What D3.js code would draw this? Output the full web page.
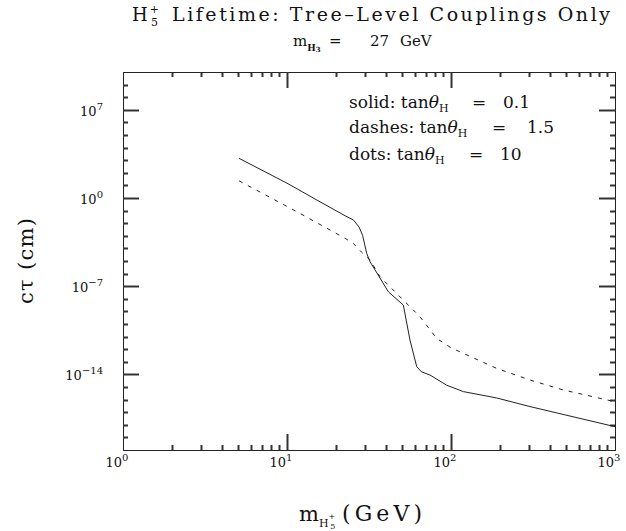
<!DOCTYPE html>
<html>
<head>
<meta charset="utf-8">
<script src="https://cdn.jsdelivr.net/npm/d3@7"></script>
<style>
  body { margin: 0; background: #fff; }
  svg { display: block; }
  text { font-family: 'DejaVu Serif', 'Liberation Serif', serif; fill: #111; }
</style>
</head>
<body>
<svg id="chart"></svg>
<script>
// Chart size
var canvasWidth = 626;
var canvasHeight = 531;

// Plot frame
var frame = { left: 123, right: 615, top: 72, bottom: 450 };

// Solid curve: tanθH = 0.1 (mass in GeV, cτ in cm)
var massSolid = [5.1, 10, 15.2, 22.6, 25.4, 27.5, 28.9, 30.6, 32.1, 41.5, 51.2, 56.2, 61.8, 66, 74.5, 94, 119, 190, 303, 1000];
var ctSolid = [1.4e3, 1.5e1, 6.9e-1, 3.9e-2, 1.8e-2, 5.0e-3, 1.1e-3, 4.1e-5, 8.7e-6, 3.6e-8, 3.2e-9, 5.4e-12, 4.1e-14, 1.6e-14, 8.9e-15, 1.4e-15, 4.3e-16, 1.35e-16, 2.8e-17, 7.1e-19];

// Dashed curve: tanθH = 1.5
var massDashed = [5.1, 11.5, 22.6, 25.4, 28.5, 32.1, 36.9, 51.2, 64.7, 81.8, 100, 125, 190, 303, 484, 1000];
var ctDashed = [2.3e1, 8.1e-2, 6.3e-4, 2.5e-4, 5.0e-5, 1.2e-5, 5.6e-7, 7.9e-9, 3.8e-10, 7.2e-12, 1.3e-12, 3.5e-13, 3.0e-14, 3.6e-15, 5.8e-16, 6.8e-17];

// Tick labels (exponents of ten)
var xLabelExps = [0, 1, 2, 3];
var yLabelExps = [7, 0, -7, -14];

// Legend lines
var legendNames = ['solid:', 'dashes:', 'dots:'];
var legendValues = ['0.1', '1.5', '10'];

var svg = d3.select('#chart')
  .attr('width', canvasWidth)
  .attr('height', canvasHeight);

// Scales
var xScale = d3.scaleLog()
  .domain([1, 1000])
  .range([frame.left, frame.right]);

var yScale = d3.scaleLog()
  .domain([1e-20, 1e10])
  .range([frame.bottom, frame.top]);

// Tick values
var xMajor = [10, 100];
var xMinor = [2, 3, 4, 5, 6, 7, 8, 9, 20, 30, 40, 50, 60, 70, 80, 90, 200, 300, 400, 500, 600, 700, 800, 900];
var yMajor = [1e7, 1, 1e-7, 1e-14];
var yMinor = [1e9, 1e8, 1e6, 1e5, 1e4, 1e3, 1e2, 1e1, 1e-1, 1e-2, 1e-3, 1e-4, 1e-5, 1e-6,
  1e-8, 1e-9, 1e-10, 1e-11, 1e-12, 1e-13, 1e-15, 1e-16, 1e-17, 1e-18, 1e-19];

// Frame
svg.append('rect')
  .attr('x', frame.left + 0.5)
  .attr('y', frame.top + 0.5)
  .attr('width', frame.right - frame.left)
  .attr('height', frame.bottom - frame.top)
  .attr('fill', 'none')
  .attr('stroke', '#222')
  .attr('stroke-width', 1);

// Inward ticks on all four sides
function addTicks(cls, values, len) {
  var g = svg.append('g').attr('class', cls);
  values.forEach(function(v) {
    if (cls.indexOf('x') === 0) {
      var px = Math.round(xScale(v)) + 0.5;
      g.append('line').attr('x1', px).attr('x2', px)
        .attr('y1', frame.bottom).attr('y2', frame.bottom - len);
      g.append('line').attr('x1', px).attr('x2', px)
        .attr('y1', frame.top).attr('y2', frame.top + len);
    } else {
      var py = Math.round(yScale(v)) + 0.5;
      g.append('line').attr('x1', frame.left).attr('x2', frame.left + len)
        .attr('y1', py).attr('y2', py);
      g.append('line').attr('x1', frame.right).attr('x2', frame.right - len)
        .attr('y1', py).attr('y2', py);
    }
  });
  g.selectAll('line')
    .style('stroke', '#333')
    .style('stroke-width', '2px');
}

addTicks('x-minor', xMinor, 5);
addTicks('x-major', xMajor, 16);
addTicks('y-minor', yMinor, 5);
addTicks('y-major', yMajor, 16);

// X tick labels
var xLabels = svg.append('g').selectAll('text')
  .data(xLabelExps)
  .enter()
  .append('text')
  .attr('x', function(d) { return xScale(Math.pow(10, d)) - 6; })
  .attr('y', 467)
  .attr('text-anchor', 'middle')
  .style('font-size', '13px');
xLabels.append('tspan').text('10');
xLabels.append('tspan')
  .attr('dy', -6)
  .style('font-size', '10px')
  .text(function(d) { return d; });

// Y tick labels
var yLabels = svg.append('g').selectAll('text')
  .data(yLabelExps)
  .enter()
  .append('text')
  .attr('x', 103)
  .attr('y', function(d) { return yScale(Math.pow(10, d)) + 6; })
  .attr('text-anchor', 'end')
  .style('font-size', '13px');
yLabels.append('tspan').text('10');
yLabels.append('tspan')
  .attr('dy', -6)
  .style('font-size', '10px')
  .text(function(d) { return d < 0 ? '\u2212' + (-d) : d; });

// Curves
var line = d3.line()
  .x(function(d) { return xScale(d[0]); })
  .y(function(d) { return yScale(d[1]); });

svg.append('path')
  .datum(d3.zip(massSolid, ctSolid))
  .attr('d', line)
  .attr('fill', 'none')
  .attr('stroke', '#222')
  .attr('stroke-width', 1)
  .attr('stroke-linejoin', 'round');

svg.append('path')
  .datum(d3.zip(massDashed, ctDashed))
  .attr('d', line)
  .attr('fill', 'none')
  .attr('stroke', '#222')
  .attr('stroke-width', 1)
  .attr('stroke-dasharray', '4,6');

// Title
var title = svg.append('text')
  .attr('x', 132)
  .attr('y', 21)
  .style('font-size', '18px');
title.append('tspan').text('H');
title.append('tspan')
  .attr('dx', 2)
  .attr('dy', -8)
  .style('font-size', '11px')
  .text('+');
title.append('tspan')
  .attr('dx', -8)
  .attr('dy', 13)
  .style('font-size', '11px')
  .text('5');

svg.append('text')
  .attr('x', 172)
  .attr('y', 21)
  .attr('textLength', 438)
  .attr('lengthAdjust', 'spacing')
  .style('font-size', '19px')
  .text('Lifetime: Tree\u2013Level Couplings Only');

// Subtitle
var subtitle = svg.append('text')
  .attr('x', 293)
  .attr('y', 46)
  .style('font-size', '15px');
subtitle.append('tspan').text('m');
subtitle.append('tspan')
  .attr('dy', 5)
  .style('font-size', '9px')
  .style('font-weight', 'bold')
  .text('H');
subtitle.append('tspan')
  .attr('dy', 1)
  .style('font-size', '7px')
  .style('font-weight', 'bold')
  .text('3');
subtitle.append('tspan')
  .attr('x', 329)
  .attr('dy', -6)
  .text('=');
subtitle.append('tspan')
  .attr('x', 370)
  .text('27');
subtitle.append('tspan')
  .attr('x', 400)
  .text('GeV');

// Legend
var legendEqX = [472, 492, 469];
var legendValX = [503, 527, 500];
var legendY = [108, 133, 160];
legendNames.forEach(function(name, i) {
  var t = svg.append('text')
    .attr('x', 349)
    .attr('y', legendY[i])
    .style('font-size', '17px');
  t.append('tspan').text(name + ' tan');
  t.append('tspan').style('font-style', 'italic').text('\u03b8');
  t.append('tspan')
    .attr('dy', 4)
    .style('font-size', '11px')
    .text('H');
  t.append('tspan')
    .attr('x', legendEqX[i])
    .attr('dy', -4)
    .text('=');
  t.append('tspan')
    .attr('x', legendValX[i])
    .text(legendValues[i]);
});

// Y axis label
svg.append('text')
  .attr('transform', 'translate(33,' + ((frame.top + frame.bottom) / 2) + ') rotate(-90)')
  .attr('text-anchor', 'middle')
  .attr('textLength', 86)
  .attr('lengthAdjust', 'spacing')
  .style('font-size', '21px')
  .text('c\u03c4 (cm)');

// X axis label
var xTitle = svg.append('text')
  .attr('x', 299)
  .attr('y', 521)
  .style('font-size', '21px');
xTitle.append('tspan').text('m');
xTitle.append('tspan')
  .attr('dy', 6)
  .style('font-size', '11px')
  .text('H');
xTitle.append('tspan')
  .attr('dy', -8)
  .style('font-size', '8px')
  .text('+');
xTitle.append('tspan')
  .attr('dx', -5)
  .attr('dy', 10)
  .style('font-size', '8px')
  .text('5');

svg.append('text')
  .attr('x', 342)
  .attr('y', 521)
  .attr('textLength', 80)
  .attr('lengthAdjust', 'spacing')
  .style('font-size', '22px')
  .text('(GeV)');
</script>
</body>
</html>
